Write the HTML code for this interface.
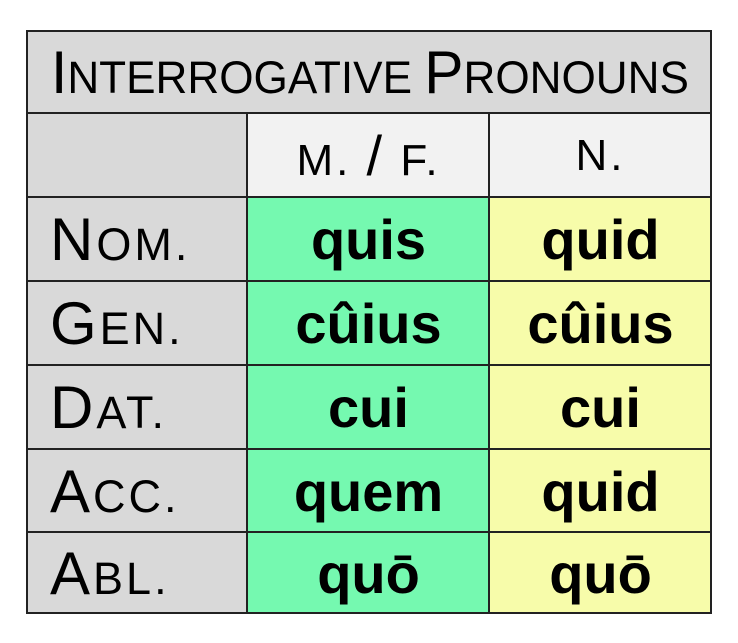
<!DOCTYPE html>
<html><head><style>
body{margin:0;width:738px;height:643px;background:#fff;position:relative;font-family:"Liberation Sans",sans-serif;overflow:hidden}
.c{position:absolute;box-sizing:border-box;display:flex;align-items:center;color:#000;white-space:nowrap}
.g{background:#d9d9d9}.w{background:#f2f2f2;justify-content:center}
.gr{background:#75f9b0;justify-content:center;font-weight:bold;font-size:56px}
.ye{background:#f7fcaa;justify-content:center;font-weight:bold;font-size:56px}
.lab{padding-left:24px}
.lab>span{display:inline-block;transform:scaleX(1.0);transform-origin:left;letter-spacing:3px}
.B{font-size:60px}.s{font-size:45px}
.bx{position:absolute;left:26px;top:30px;width:686px;height:584px;border:2px solid #222;box-sizing:border-box}
.hl{position:absolute;background:#222;height:2px}
.vl{position:absolute;background:#222;width:2px}
</style></head><body>
<div class="c g" style="left:26px;top:30px;width:686px;height:84px;padding-left:25px"><span style="display:inline-block;transform:scaleX(0.98);transform-origin:left"><span class="B">I</span><span class="s">NTERROGATIVE </span><span class="B">P</span><span class="s">RONOUNS</span></span></div>
<div class="c g" style="left:26px;top:113px;width:222px;height:501px"></div>
<div class="c w" style="left:247px;top:113px;width:243px;height:85px;font-size:44px;letter-spacing:3px"><span>M. <span style="font-size:56px">/</span> F.</span></div>
<div class="c w" style="left:489px;top:113px;width:223px;height:85px;font-size:44px;letter-spacing:3px">N.</div>

<div class="c g lab" style="left:26px;top:197px;width:222px;height:84px"><span><span class="B">N</span><span class="s">OM.</span></span></div>
<div class="c g lab" style="left:26px;top:281px;width:222px;height:84px"><span><span class="B">G</span><span class="s">EN.</span></span></div>
<div class="c g lab" style="left:26px;top:365px;width:222px;height:84px"><span><span class="B">D</span><span class="s">AT.</span></span></div>
<div class="c g lab" style="left:26px;top:449px;width:222px;height:84px"><span><span class="B">A</span><span class="s">CC.</span></span></div>
<div class="c g lab" style="left:26px;top:532px;width:222px;height:82px"><span><span class="B">A</span><span class="s">BL.</span></span></div>

<div class="c gr" style="left:247px;top:197px;width:243px;height:84px">quis</div>
<div class="c gr" style="left:247px;top:281px;width:243px;height:84px">cûius</div>
<div class="c gr" style="left:247px;top:365px;width:243px;height:84px">cui</div>
<div class="c gr" style="left:247px;top:449px;width:243px;height:84px">quem</div>
<div class="c gr" style="left:247px;top:532px;width:243px;height:82px">quō</div>

<div class="c ye" style="left:489px;top:197px;width:223px;height:84px">quid</div>
<div class="c ye" style="left:489px;top:281px;width:223px;height:84px">cûius</div>
<div class="c ye" style="left:489px;top:365px;width:223px;height:84px">cui</div>
<div class="c ye" style="left:489px;top:449px;width:223px;height:84px">quid</div>
<div class="c ye" style="left:489px;top:532px;width:223px;height:82px">quō</div>

<div class="hl" style="left:26px;top:112px;width:686px"></div>
<div class="hl" style="left:26px;top:196px;width:686px"></div>
<div class="hl" style="left:26px;top:280px;width:686px"></div>
<div class="hl" style="left:26px;top:364px;width:686px"></div>
<div class="hl" style="left:26px;top:448px;width:686px"></div>
<div class="hl" style="left:26px;top:531px;width:686px"></div>
<div class="vl" style="left:246px;top:113px;height:501px"></div>
<div class="vl" style="left:488px;top:113px;height:501px"></div>
<div class="bx"></div>
</body></html>
